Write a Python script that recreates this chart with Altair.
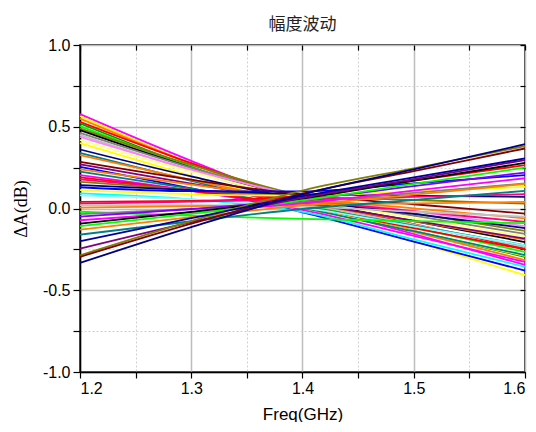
import altair as alt
import pandas as pd

# frequency points (GHz)
freqs = [1.2, 1.3, 1.4, 1.5, 1.6]

# one colour per curve (Origin-style palette)
line_colors = [
    "#FF00FF", "#FFFF00", "#FF8000", "#FF0000", "#009900", "#00FF00", "#808000", "#000000",
    "#808080", "#C0C0C0", "#FF80FF", "#FFFF80", "#FFFF00", "#000080", "#008080", "#FF8000",
    "#800000", "#800080", "#0000FF", "#FF8000", "#008080", "#FF00FF", "#FF0000", "#FF0080",
    "#808000", "#000080", "#0000FF", "#FFFF00", "#00FFFF", "#80FFFF", "#FF0000", "#FF0080",
    "#C0C0C0", "#FF8000", "#00FF00", "#808080", "#8000FF", "#FF00FF", "#000000", "#00FF00",
    "#FF8000", "#008080", "#800080", "#808000", "#800000", "#000080", "#0000A0",
]

# ΔA (dB) of each curve at 1.2, 1.3, 1.4, 1.5, 1.6 GHz
dA_120 = [0.577, 0.565, 0.550, 0.530, 0.520, 0.504, 0.490, 0.479, 0.463, 0.450, 0.438, 0.418,
          0.400, 0.361, 0.340, 0.326, 0.285, 0.270, 0.255, 0.239, 0.225, 0.204, 0.190, 0.178,
          0.163, 0.143, 0.130, 0.112, 0.092, 0.080, 0.040, 0.030, 0.020, 0.005, -0.020, -0.035,
          -0.050, -0.072, -0.092, -0.108, -0.129, -0.160, -0.245, -0.286, -0.296, -0.333, -0.200]
dA_130 = [0.291, 0.274, 0.274, 0.277, 0.255, 0.255, 0.267, 0.250, 0.250, 0.232, 0.239, 0.225,
          0.200, 0.196, 0.169, 0.175, 0.176, 0.152, 0.123, 0.146, 0.122, 0.108, 0.108, 0.114,
          0.114, 0.112, 0.106, 0.087, 0.056, 0.056, 0.046, 0.042, 0.020, 0.014, -0.044, -0.003,
          -0.003, -0.024, -0.020, -0.033, -0.053, -0.078, -0.083, -0.077, -0.093, -0.114, -0.059]
dA_140 = [0.033, 0.008, 0.029, 0.055, 0.022, 0.035, 0.078, 0.052, 0.067, 0.039, 0.073, 0.056,
          0.014, 0.054, 0.006, 0.036, 0.083, 0.037, -0.023, 0.062, 0.014, -0.008, 0.011, 0.050,
          0.073, 0.088, 0.105, 0.078, -0.020, 0.006, 0.078, 0.055, 0.011, 0.023, -0.064, 0.037,
          0.055, 0.033, 0.062, 0.050, 0.020, -0.003, 0.065, 0.110, 0.091, 0.086, 0.075]
dA_150 = [-0.156, -0.200, -0.143, -0.095, -0.137, -0.115, -0.030, -0.077, -0.044, -0.098, -0.018, -0.057,
          -0.138, -0.033, -0.139, -0.077, 0.026, -0.074, -0.202, 0.001, -0.105, -0.167, -0.120, -0.016,
          0.052, 0.079, 0.154, 0.105, -0.189, -0.110, 0.171, 0.071, -0.020, 0.031, -0.077, 0.095,
          0.137, 0.109, 0.171, 0.150, 0.085, 0.052, 0.180, 0.246, 0.229, 0.239, 0.190]
dA_160 = [-0.345, -0.408, -0.315, -0.245, -0.296, -0.266, -0.137, -0.205, -0.155, -0.235, -0.108, -0.170,
          -0.290, -0.120, -0.285, -0.190, -0.031, -0.184, -0.380, -0.060, -0.225, -0.327, -0.250, -0.082,
          0.030, 0.071, 0.204, 0.132, -0.357, -0.225, 0.265, 0.088, -0.050, 0.040, -0.090, 0.153,
          0.220, 0.185, 0.279, 0.250, 0.150, 0.108, 0.296, 0.381, 0.367, 0.393, 0.306]

# axis tick values
x_ticks = [1.2, 1.25, 1.3, 1.35, 1.4, 1.45, 1.5, 1.55, 1.6]
y_ticks = [-1.0, -0.75, -0.5, -0.25, 0.0, 0.25, 0.5, 0.75, 1.0]

series_ids = [f"S{i:02d}" for i in range(len(line_colors))]
rows = []
for i, sid in enumerate(series_ids):
    for f, v in zip(freqs, [dA_120[i], dA_130[i], dA_140[i], dA_150[i], dA_160[i]]):
        rows.append({"s": sid, "f": f, "v": v})
df = pd.DataFrame(rows)

x_major = "abs(round(datum.value*10) - datum.value*10) < 0.01"
y_major = "abs(round(datum.value*2) - datum.value*2) < 0.01"
lab = "(datum.value < 0 ? '-' : '') + format(abs(datum.value), '.1f')"

x_scale = alt.Scale(domain=[1.2, 1.6], nice=False, zero=False)
y_scale = alt.Scale(domain=[-1.0, 1.0], nice=False, zero=False)

lines = alt.Chart(df).mark_line(strokeWidth=1.8, interpolate="monotone").encode(
    x=alt.X("f:Q", scale=x_scale, axis=alt.Axis(
        values=x_ticks, title="Freq(GHz)", labelExpr=f"{x_major} ? {lab} : ''",
        grid=True, gridColor={"condition": {"test": x_major, "value": "#BDBDBD"}, "value": "#D0D0D0"},
        gridDash={"condition": {"test": x_major, "value": []}, "value": [2, 2]},
        gridWidth={"condition": {"test": x_major, "value": 1.5}, "value": 1},
        domainColor="black", domainWidth=1.5, tickColor="black", tickSize=6, tickWidth=1.2,
        labelFont="Liberation Sans", labelFontSize=16, labelColor="black", labelPadding=2,
        titleFont="Liberation Sans", titleFontSize=17, titleFontWeight="normal", titleColor="black",
        titlePadding=10)),
    y=alt.Y("v:Q", scale=y_scale, axis=alt.Axis(
        values=y_ticks, title="ΔA(dB)", labelExpr=f"{y_major} ? {lab} : ''",
        grid=True, gridColor={"condition": {"test": y_major, "value": "#BDBDBD"}, "value": "#D0D0D0"},
        gridDash={"condition": {"test": y_major, "value": []}, "value": [2, 2]},
        gridWidth={"condition": {"test": y_major, "value": 1.5}, "value": 1},
        domainColor="black", domainWidth=1.5, tickColor="black", tickSize=7, tickWidth=1.2,
        labelFont="Liberation Sans", labelFontSize=16, labelColor="black", labelPadding=3,
        titleFont="Liberation Serif", titleFontSize=18, titleFontWeight="normal", titleColor="black",
        titlePadding=12)),
    color=alt.Color("s:N", scale=alt.Scale(domain=series_ids, range=line_colors), legend=None),
    detail="s:N",
)

frame = alt.Chart(df).mark_line(strokeOpacity=0).encode(
    x=alt.X("f:Q", scale=x_scale, axis=alt.Axis(
        orient="top", values=x_ticks, labels=False, title=None, domain=False, grid=False,
        tickColor="black", tickSize=5, tickWidth=1.2, offset=-5)),
    y=alt.Y("v:Q", scale=y_scale, axis=alt.Axis(
        orient="right", values=y_ticks, labels=False, title=None, domain=False, grid=False,
        tickColor="black", tickSize=5, tickWidth=1.2, offset=-5)),
    detail="s:N",
)

chart = alt.layer(lines, frame).resolve_axis(x="independent", y="independent").properties(
    width=445, height=327,
    title=alt.TitleParams("幅度波动", font="Noto Sans CJK SC", fontSize=17, fontWeight="normal",
                          color="#222222", anchor="middle", offset=3),
    autosize=alt.AutoSizeParams(type="none"),
    padding={"left": 72, "top": 37, "right": 3, "bottom": 50},
).configure_view(stroke="black", strokeWidth=1.5)

chart.save("out.html", embed_options={"renderer": "svg", "actions": False})
